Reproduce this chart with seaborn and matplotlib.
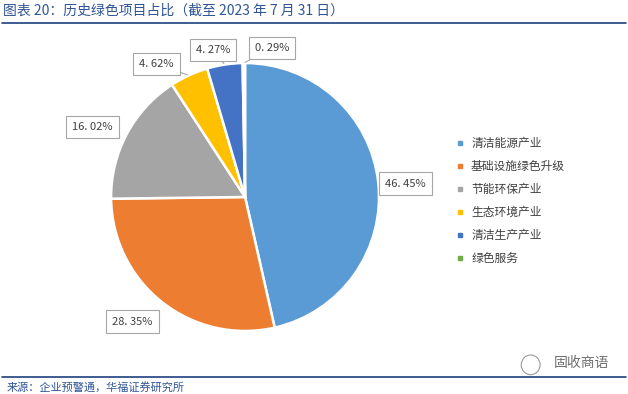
import numpy as np
import matplotlib
matplotlib.use('Agg')
import matplotlib.pyplot as plt
import seaborn as sns
from matplotlib.patches import Ellipse

sns.set_theme(style='white')
plt.rcParams['font.family'] = ['Noto Sans CJK SC', 'DejaVu Sans']

# data
categories = ['清洁能源产业', '基础设施绿色升级', '节能环保产业', '生态环境产业', '清洁生产产业', '绿色服务']
shares = [46.45, 28.35, 16.02, 4.62, 4.27, 0.29]
label_texts = ['46. 45%', '28. 35%', '16. 02%', '4. 62%', '4. 27%', '0. 29%']
colors = sns.color_palette(['#5B9BD5', '#ED7D31', '#A5A5A5', '#FFC000', '#4472C4', '#70AD47'])

# label box positions (pie data coords) and whether a leader line is drawn
label_pos = [(1.20, 0.10), (-0.84, -0.93), (-1.14, 0.52), (-0.66, 0.99), (-0.24, 1.10), (0.20, 1.11)]
leader = [False, False, False, True, True, True]

fig = plt.figure(figsize=(6.28, 3.94), dpi=100)

# pie axes
ax = fig.add_axes([0.1768, 0.160, 0.4268, 0.680])
wedges, _ = ax.pie(shares, colors=colors, startangle=90, counterclock=False,
                   radius=1.0, wedgeprops=dict(edgecolor='white', linewidth=1.8))
ax.set_xlim(-1, 1)
ax.set_ylim(-1, 1)
ax.set_aspect('equal')
ax.axis('off')

box = dict(boxstyle='square,pad=0.55', fc='white', ec='#A6A6A6', lw=0.8)
for w, txt, pos, ld in zip(wedges, label_texts, label_pos, leader):
    mid = np.deg2rad((w.theta1 + w.theta2) / 2)
    edge = (np.cos(mid), np.sin(mid))
    if ld:
        ax.annotate(txt, xy=edge, xytext=pos, ha='center', va='center', fontsize=8,
                    color='#404040', bbox=box, annotation_clip=False,
                    arrowprops=dict(arrowstyle='-', color='#A6A6A6', lw=0.8,
                                    shrinkA=0, shrinkB=1))
    else:
        ax.text(pos[0], pos[1], txt, ha='center', va='center', fontsize=8,
                color='#404040', bbox=box, clip_on=False)

# legend
handles = [plt.Line2D([], [], marker='s', linestyle='', markersize=3.5, color=c) for c in colors]
fig.legend(handles, categories, loc='upper left', bbox_to_anchor=(0.72, 0.665),
           frameon=False, fontsize=8.5, labelspacing=0.85, handlelength=0.6,
           handletextpad=0.6, labelcolor='#404040', borderaxespad=0)

# title and rules
fig.text(0.005, 0.972, '图表 20：历史绿色项目占比（截至 2023 年 7 月 31 日）',
         fontsize=10, color='#2F5597', ha='left', va='center')
fig.add_artist(plt.Line2D([0.003, 0.997], [0.942, 0.942], color='#1F3F7F', lw=1.2))
fig.add_artist(plt.Line2D([0.003, 0.997], [0.043, 0.043], color='#1F3F7F', lw=1.2))
fig.text(0.01, 0.018, '来源：企业预警通，华福证券研究所', fontsize=8, color='#2F5597',
         ha='left', va='center')

# watermark
fig.add_artist(Ellipse((0.845, 0.074), 0.03, 0.05, transform=fig.transFigure,
                       fill=False, ec='#9A9A9A', lw=0.8))
fig.text(0.882, 0.078, '固收商语', fontsize=10, color='#6E6E6E', ha='left', va='center')

fig.savefig('out.png', dpi=100)
